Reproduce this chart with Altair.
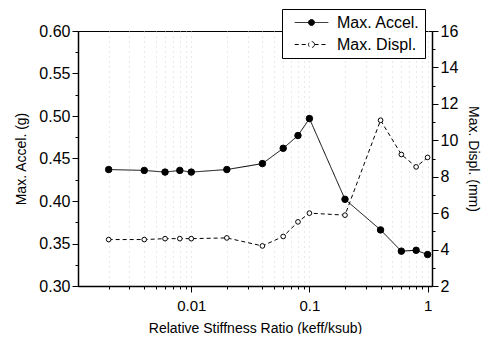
import altair as alt
import pandas as pd

# ---- data ----
ratio = [0.002, 0.004, 0.006, 0.008, 0.01, 0.02, 0.04, 0.06, 0.08, 0.1, 0.2, 0.4, 0.6, 0.8, 1.0]
accel = [0.437, 0.436, 0.434, 0.436, 0.434, 0.437, 0.444, 0.462, 0.477, 0.497, 0.402, 0.366, 0.341, 0.342, 0.337]
displ = [4.55, 4.55, 4.60, 4.60, 4.60, 4.64, 4.20, 4.72, 5.52, 6.00, 5.89, 11.10, 9.22, 8.54, 9.06]
series = ["Max. Accel.", "Max. Displ."]

x_ticks = [0.002, 0.003, 0.004, 0.005, 0.006, 0.007, 0.008, 0.009,
           0.01, 0.02, 0.03, 0.04, 0.05, 0.06, 0.07, 0.08, 0.09,
           0.1, 0.2, 0.3, 0.4, 0.5, 0.6, 0.7, 0.8, 0.9, 1]
x_major = [0.01, 0.1, 1]
yl_ticks = [0.3, 0.325, 0.35, 0.375, 0.4, 0.425, 0.45, 0.475, 0.5, 0.525, 0.55, 0.575, 0.6]
yl_major = [0.3, 0.35, 0.4, 0.45, 0.5, 0.55, 0.6]
yr_ticks = [2, 3, 4, 5, 6, 7, 8, 9, 10, 11, 12, 13, 14, 15, 16]
yr_major = [2, 4, 6, 8, 10, 12, 14, 16]

FONT = "Liberation Sans"


def in_list(lst):
    return "indexof([" + ",".join(repr(v) for v in lst) + "], datum.value) >= 0"


def tick_size(lst):
    return {"condition": {"test": in_list(lst), "value": 6}, "value": 3}


dfa = pd.DataFrame({"ratio": ratio, "value": accel, "series": series[0]})
dfd = pd.DataFrame({"ratio": ratio, "value": displ, "series": series[1]})

x_axis = alt.Axis(
    values=x_ticks,
    labelExpr=in_list(x_major) + " ? format(datum.value, '~g') : ''",
    tickSize=tick_size(x_major),
    title="Relative Stiffness Ratio (keff/ksub)",
    grid=True, gridDash=[1, 4], gridColor="#d2d2d2",
    labelFontSize=15, labelPadding=6, titleFontSize=14, titlePadding=8,
)
x_enc = alt.X("ratio:Q", scale=alt.Scale(type="log", domain=[0.0011, 1.09]), axis=x_axis)

yl_axis = alt.Axis(
    values=yl_ticks,
    labelExpr=in_list(yl_major) + " ? format(datum.value, '.2f') : ''",
    tickSize=tick_size(yl_major),
    title="Max. Accel. (g)", grid=False,
    labelFontSize=16, titleFontSize=14, titlePadding=10,
)
yr_axis = alt.Axis(
    orient="right",
    values=yr_ticks,
    labelExpr=in_list(yr_major) + " ? format(datum.value, 'd') : ''",
    tickSize=tick_size(yr_major),
    title="Max. Displ. (mm)", grid=False, titleAngle=90,
    labelFontSize=16, titleFontSize=14, titlePadding=8,
)

legend = alt.Legend(title=None)
dash_enc = alt.StrokeDash("series:N", scale=alt.Scale(domain=series, range=[[1, 0], [4, 3]]), legend=legend)
fill_enc = alt.Fill("series:N", scale=alt.Scale(domain=series, range=["black", "white"]), legend=legend)

ya = alt.Y("value:Q", scale=alt.Scale(domain=[0.3, 0.6]), axis=yl_axis)
yd = alt.Y("value:Q", scale=alt.Scale(domain=[2, 16]), axis=yr_axis)

acc_line = alt.Chart(dfa).mark_line(color="black", strokeWidth=1).encode(x=x_enc, y=ya, strokeDash=dash_enc)
acc_pts = alt.Chart(dfa).mark_point(shape="circle", filled=True, stroke="black", strokeWidth=1,
                                    size=42, opacity=1).encode(x=x_enc, y=ya, fill=fill_enc)
dis_line = alt.Chart(dfd).mark_line(color="black", strokeWidth=1).encode(x=x_enc, y=yd, strokeDash=dash_enc)
dis_pts = alt.Chart(dfd).mark_point(shape="circle", filled=True, stroke="black", strokeWidth=1,
                                    size=22, opacity=1).encode(x=x_enc, y=yd, fill=fill_enc)

left = alt.layer(acc_line, acc_pts)
right = alt.layer(dis_line, dis_pts)

sym = ("M-2.1,0H-0.375M0.375,0H2.1"
       "M0.375,0A0.375,0.375,0,1,1,-0.375,0A0.375,0.375,0,1,1,0.375,0Z")

chart = (
    alt.layer(left, right)
    .resolve_scale(y="independent")
    .properties(width=354, height=255,
                autosize=alt.AutoSizeParams(type="none"),
                padding={"left": 70, "top": 23, "right": 49, "bottom": 48})
    .configure_view(stroke="black", strokeWidth=1)
    .configure_axis(labelFont=FONT, titleFont=FONT, labelColor="black", titleColor="black",
                    titleFontWeight="normal", domainColor="black", domainWidth=1.5,
                    tickColor="black", tickWidth=1)
    .configure_legend(orient="none", legendX=204, legendY=-22,
                      padding=5, strokeColor="black", fillColor="white", cornerRadius=0,
                      symbolType=sym, symbolSize=256, symbolStrokeColor="black",
                      symbolStrokeWidth=1, symbolOffset=16, labelOffset=17,
                      labelFont=FONT, labelFontSize=16, labelColor="black", rowPadding=5)
)

chart.save("out.html", embed_options={"renderer": "svg", "actions": False})
